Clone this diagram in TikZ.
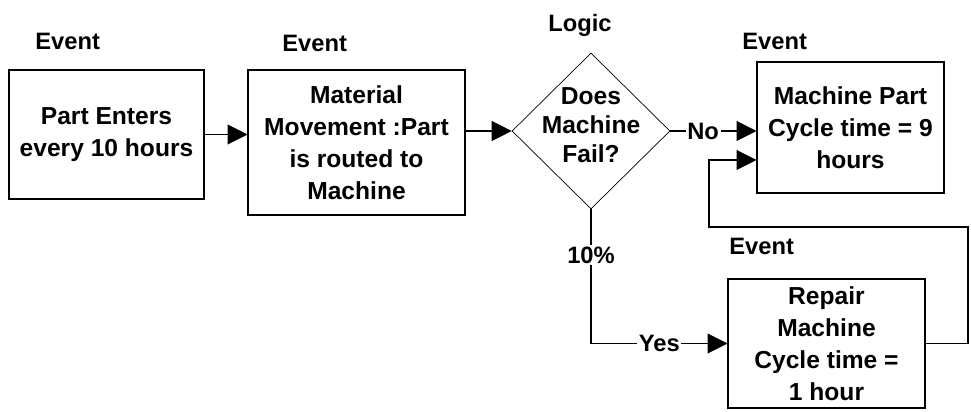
\documentclass[tikz,border=0pt]{standalone}
\usepackage{fontspec}
\setmainfont{Liberation Sans}
\usetikzlibrary{shapes.geometric, arrows.meta}
\tikzstyle{eventbox} = [rectangle, draw=black, line width=0.6pt, align=center, inner sep=0pt, font=\bfseries\fontsize{14}{18.3}\selectfont]
\tikzstyle{decision} = [diamond, draw=black, line width=0.4pt, minimum width=3.16cm, minimum height=3.12cm, inner sep=0pt]
\tikzstyle{txt} = [align=center, inner sep=0pt, font=\bfseries\fontsize{14}{16.5}\selectfont]
\tikzstyle{tag} = [anchor=base west, inner sep=0pt, font=\bfseries\fontsize{13.5}{16}\selectfont]
\tikzstyle{branch} = [fill=white, inner sep=1pt, font=\bfseries\fontsize{13.5}{16}\selectfont]
\tikzstyle{arrow} = [line width=0.6pt, -{Triangle[length=0.4cm, width=0.4cm]}]

\begin{document}
\begin{tikzpicture}[x=0.02cm, y=-0.02cm]
      \useasboundingbox (0,0) rectangle (971,412);

      \node (enter) [eventbox, minimum width=3.9cm, minimum height=2.58cm] at (106.5,134.5) {Part Enters\\every 10 hours};
      \node (move) [eventbox, minimum width=4.34cm, minimum height=2.9cm] at (356.5,142.5) {Material\\Movement :Part\\is routed to\\Machine};
      \node (dec) [decision] at (591,131) {};
      \node (dectxt) [txt] at (591,125) {Does\\Machine\\Fail?};
      \node (machine) [eventbox, minimum width=3.74cm, minimum height=2.62cm] at (850.5,127.5) {Machine Part\\Cycle time = 9\\hours};
      \node (repair) [eventbox, minimum width=3.94cm, minimum height=2.58cm] at (826.5,343.5) {Repair\\Machine\\Cycle time =\\1 hour};

      \node (tag1) [tag] at (35,50) {Event};
      \node (tag2) [tag] at (282,52) {Event};
      \node (tag3) [tag] at (548,32) {Logic};
      \node (tag4) [tag] at (742,50) {Event};
      \node (tag5) [tag] at (729,255) {Event};

      \coordinate (loopR) at (968,227);
      \coordinate (loopL) at (709,227);

      \draw [arrow] (enter.east) -- (enter.east -| move.west);
      \draw [arrow] (move.east |- dec.west) -- (dec.west);
      \draw [arrow] (dec.east) -- node[pos=0.38, branch] {No} (dec.east -| machine.west);
      \draw [arrow] (dec.south) |- node[pos=0.17, branch] {10\%} node[pos=0.75, branch] {Yes} (repair.west);
      \draw [arrow] (repair.east) -| (loopR) -- (loopL) |- ([yshift=-0.65cm]machine.west);
    \end{tikzpicture}
\end{document}
